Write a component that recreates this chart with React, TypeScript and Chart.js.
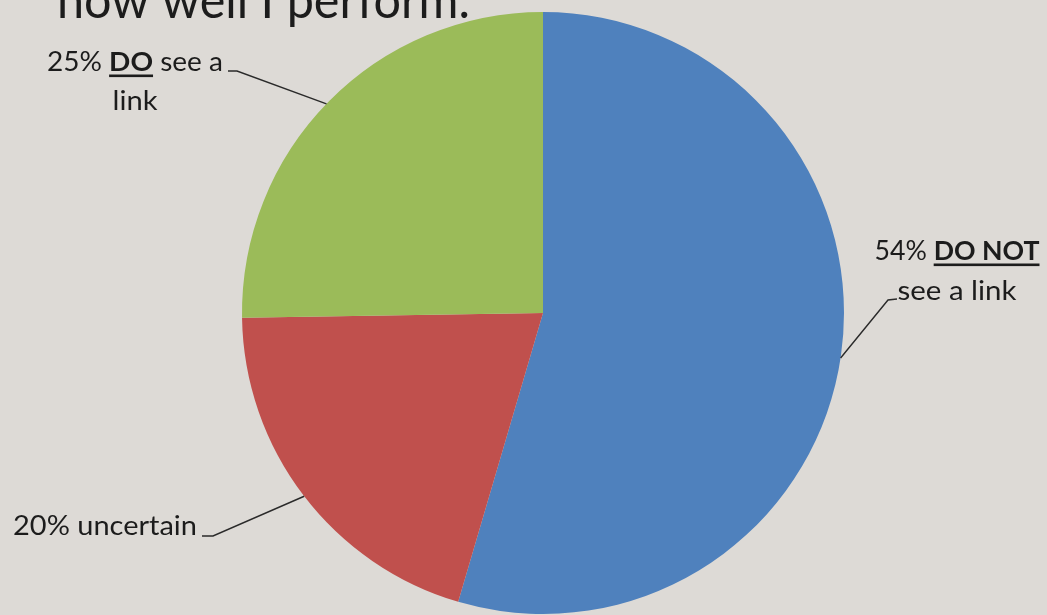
import React, { useEffect, useRef } from "react";
import { Chart, registerables } from "chart.js";

Chart.register(...registerables);

const categories = ["DO NOT see a link", "uncertain", "DO see a link"];
const values = [54, 20, 25];
const colors = ["#4f81bd", "#c0504d", "#9bbb59"];
const titleText = "how well I perform.";

type Run = { t: string; b?: boolean; u?: boolean };
type Line = { runs: Run[]; cx: number; y: number; w: number };
type Label = { lines: Line[]; leader: number[][]; angle: number };

const labels: Label[] = [
  {
    lines: [
      { runs: [{ t: "54% " }, { t: "DO NOT", b: true, u: true }], cx: 957, y: 260, w: 165 },
      { runs: [{ t: "see a link" }], cx: 957, y: 300, w: 119 },
    ],
    leader: [[897, 299], [888, 300]],
    angle: 98.6,
  },
  {
    lines: [{ runs: [{ t: "20% uncertain" }], cx: 105, y: 535, w: 184 }],
    leader: [[202, 536], [213, 536]],
    angle: 232.5,
  },
  {
    lines: [
      { runs: [{ t: "25% " }, { t: "DO", b: true, u: true }, { t: " see a" }], cx: 135, y: 71, w: 176 },
      { runs: [{ t: "link" }], cx: 135, y: 110, w: 45 },
    ],
    leader: [[228, 71], [237, 71]],
    angle: 314,
  },
];

const FAMILY = "Lato, 'Open Sans', sans-serif";

function drawRuns(ctx: CanvasRenderingContext2D, line: Line, size: number) {
  const widths: number[] = [];
  let total = 0;
  for (const r of line.runs) {
    ctx.font = `${r.b ? "bold " : ""}${size}px ${FAMILY}`;
    const w = ctx.measureText(r.t).width;
    widths.push(w);
    total += w;
  }
  const sx = line.w / total;
  ctx.save();
  ctx.translate(line.cx - line.w / 2, line.y);
  ctx.scale(sx, 1);
  let x = 0;
  line.runs.forEach((r, i) => {
    ctx.font = `${r.b ? "bold " : ""}${size}px ${FAMILY}`;
    ctx.fillStyle = "#1c1c1c";
    ctx.textBaseline = "alphabetic";
    ctx.textAlign = "left";
    ctx.fillText(r.t, x, 0);
    if (r.u) ctx.fillRect(x, 3.5, widths[i], 2.6);
    x += widths[i];
  });
  ctx.restore();
}

const bgPlugin = {
  id: "bg",
  beforeDraw(chart: any) {
    const ctx = chart.ctx as CanvasRenderingContext2D;
    ctx.save();
    ctx.fillStyle = "#dddad6";
    ctx.fillRect(0, 0, chart.width, chart.height);
    ctx.restore();
  },
};

const labelPlugin = {
  id: "labels",
  afterDraw(chart: any) {
    const ctx = chart.ctx as CanvasRenderingContext2D;
    const meta = chart.getDatasetMeta(0);
    const arc = meta.data[0] as any;
    const cx = arc.x, cy = arc.y, r = arc.outerRadius;
    // title (partially cut off at top)
    drawRuns(ctx, { runs: [{ t: titleText }], cx: 57 + 413 / 2, y: 18, w: 413 }, 50);
    labels.forEach((lab) => {
      lab.lines.forEach((ln) => drawRuns(ctx, ln, 27));
      const th = (lab.angle * Math.PI) / 180;
      const ex = cx + r * Math.sin(th);
      const ey = cy - r * Math.cos(th);
      ctx.save();
      ctx.strokeStyle = "#2a2a2a";
      ctx.lineWidth = 1.4;
      ctx.beginPath();
      ctx.moveTo(lab.leader[0][0], lab.leader[0][1]);
      for (let i = 1; i < lab.leader.length; i++) ctx.lineTo(lab.leader[i][0], lab.leader[i][1]);
      ctx.lineTo(ex, ey);
      ctx.stroke();
      ctx.restore();
    });
  },
};

export default function App() {
  const ref = useRef<HTMLCanvasElement | null>(null);
  useEffect(() => {
    document.body.style.margin = "0";
    const canvas = ref.current!;
    const chart = new Chart(canvas, {
      type: "pie",
      data: {
        labels: categories,
        datasets: [
          {
            data: values,
            backgroundColor: colors,
            borderWidth: 0,
          },
        ],
      },
      options: {
        responsive: false,
        animation: false,
        layout: { padding: { left: 242, right: 203, top: 12, bottom: 1 } },
        plugins: {
          legend: { display: false },
          tooltip: { enabled: false },
          title: { display: false },
        },
      },
      plugins: [bgPlugin, labelPlugin],
    });
    return () => chart.destroy();
  }, []);
  return (
    <div style={{ position: "absolute", left: 0, top: 0, width: 1047, height: 615 }}>
      <canvas ref={ref} width={1047} height={615} />
    </div>
  );
}
